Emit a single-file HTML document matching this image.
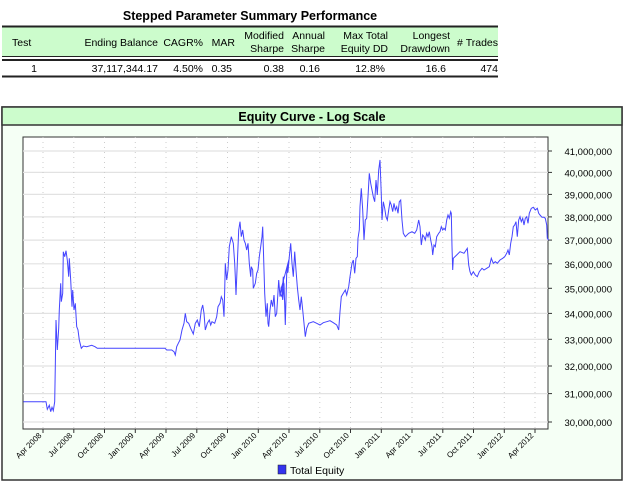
<!DOCTYPE html>
<html><head><meta charset="utf-8"><style>
body{margin:0;width:626px;height:486px;background:#fff;font-family:"Liberation Sans",Arial,sans-serif;overflow:hidden;position:relative}
</style></head><body>
<svg width="626" height="486" style="position:absolute;left:0;top:0" font-family="Liberation Sans, Arial, sans-serif">
<text x="250" y="20" font-size="12.5" font-weight="bold" text-anchor="middle">Stepped Parameter Summary Performance</text>
<rect x="2" y="27" width="496" height="29" fill="#ccfccc"/>
<line x1="2" y1="26.5" x2="498" y2="26.5" stroke="#222" stroke-width="2"/>
<line x1="2" y1="56.5" x2="498" y2="56.5" stroke="#222" stroke-width="1"/>
<line x1="2" y1="60" x2="498" y2="60" stroke="#222" stroke-width="2"/>
<line x1="2" y1="76.5" x2="498" y2="76.5" stroke="#222" stroke-width="2"/>
<g font-size="10.5" fill="#000">
<text x="12" y="46">Test</text>
<text x="158" y="46" text-anchor="end">Ending Balance</text>
<text x="203" y="46" text-anchor="end">CAGR%</text>
<text x="235" y="46" text-anchor="end">MAR</text>
<text x="284" y="39" text-anchor="end">Modified</text><text x="284" y="52" text-anchor="end">Sharpe</text>
<text x="325" y="39" text-anchor="end">Annual</text><text x="325" y="52" text-anchor="end">Sharpe</text>
<text x="388" y="39" text-anchor="end">Max Total</text><text x="388" y="52" text-anchor="end">Equity DD</text>
<text x="450" y="39" text-anchor="end">Longest</text><text x="450" y="52" text-anchor="end">Drawdown</text>
<text x="498" y="46" text-anchor="end">#&#160;Trades</text>
<text x="34" y="72" text-anchor="middle">1</text>
<text x="158" y="72" text-anchor="end">37,117,344.17</text>
<text x="203" y="72" text-anchor="end">4.50%</text>
<text x="232" y="72" text-anchor="end">0.35</text>
<text x="284" y="72" text-anchor="end">0.38</text>
<text x="320" y="72" text-anchor="end">0.16</text>
<text x="385" y="72" text-anchor="end">12.8%</text>
<text x="446" y="72" text-anchor="end">16.6</text>
<text x="498" y="72" text-anchor="end">474</text>
</g>
<rect x="2" y="107" width="620" height="373" fill="#f5fff5" stroke="#333" stroke-width="1.5"/>
<rect x="2" y="107" width="620" height="18" fill="#ccfccc" stroke="#333" stroke-width="1.5"/>
<text x="312" y="121" font-size="12.5" font-weight="bold" text-anchor="middle">Equity Curve - Log Scale</text>
<rect x="23" y="137" width="525" height="292" fill="#fff" stroke="#333" stroke-width="1"/>
<g id="grid"></g>
<polyline id="ser" fill="none" stroke="#4444ff" stroke-width="1"/>
<rect x="278" y="465" width="8" height="9" fill="#3333ee" stroke="#222" stroke-width="0.5"/>
<text x="290" y="474" font-size="10.5">Total Equity</text>
</svg>
<script>
var g=document.getElementById('grid'),s='';
function Y(v){return 151+867.6*Math.log(41/v);}
for(var m=30;m<=41;m++){var y=Y(m).toFixed(1);
s+='<line x1="23" x2="548" y1="'+y+'" y2="'+y+'" stroke="#e2e2e2" stroke-width="1.2"/>';
s+='<line x1="548" x2="552" y1="'+y+'" y2="'+y+'" stroke="#333"/>';
s+='<text x="612" y="'+(+y+4)+'" font-size="9.5" text-anchor="end">'+m+',000,000</text>';}
var lb=['Apr 2008','Jul 2008','Oct 2008','Jan 2009','Apr 2009','Jul 2009','Oct 2009','Jan 2010','Apr 2010','Jul 2010','Oct 2010','Jan 2011','Apr 2011','Jul 2011','Oct 2011','Jan 2012','Apr 2012'];
for(var i=0;i<lb.length;i++){var x=(43+i*30.75).toFixed(1);
s+='<line x1="'+x+'" x2="'+x+'" y1="137" y2="429" stroke="#ccc" stroke-dasharray="1,4"/>';
s+='<line x1="'+x+'" x2="'+x+'" y1="429" y2="433" stroke="#333"/>';
s+='<text transform="translate('+(x-1)+',436) rotate(-45)" font-size="8" text-anchor="end">'+lb[i]+'</text>';}
g.innerHTML=s;
var a=[10,815,78,815,82,838,88,826,92,845,96,832,100,842,104,815,106,710,108,570,112,660,116,595,118,540,122,460,124,515,128,490,130,365,134,380,138,362,142,390,146,440,148,385,152,450,156,530,158,480,162,540,166,520,170,590,174,600,178,630,184,655,190,648,200,650,215,646,225,650,232,655,435,655,440,660,455,660,462,665,466,675,470,650,475,640,480,630,486,600,492,580,496,550,500,575,506,580,512,595,520,612,526,580,532,570,538,590,544,540,548,525,552,550,556,600,562,580,568,570,572,585,576,575,584,580,590,560,594,530,600,520,604,500,608,510,612,560,614,480,616,400,620,450,624,420,628,350,634,320,640,340,644,400,646,440,648,495,652,400,656,300,660,275,664,320,668,300,672,330,676,340,680,360,684,340,688,400,692,440,694,410,698,420,700,475,706,460,710,430,714,420,718,380,722,350,726,320,728,290,730,350,734,490,738,560,742,520,744,580,746,590,750,540,754,510,758,530,762,495,766,560,770,550,776,450,780,500,784,470,788,510,792,460,796,585,800,430,804,400,808,385];
var b=[0,490,6,500,10,440,14,520,16,585,20,430,24,425,28,380,32,340,36,400,40,440,44,365,48,420,52,470,56,510,60,540,64,500,68,540,72,580,76,620,80,595,86,580,100,575,110,580,120,585,130,578,140,575,150,572,160,578,170,585,176,600,180,545,184,500,190,490,196,480,200,495,206,470,210,440,216,400,220,390,224,430,228,385,232,380,234,325,238,300,240,230,244,175,248,240,252,330,256,270,260,265,264,200,268,130,272,160,276,180,280,200,284,215,288,150,292,195,296,120,300,90,304,195,306,270,310,215,314,235,318,260,322,270,326,240,330,215,334,225,338,245,342,220,346,240,350,230,354,250,358,215,362,210,366,270,370,310,376,320,386,310,396,305,404,310,410,300,416,270,420,290,424,345,428,315,432,320,436,330,440,310,444,320,448,305,452,330,456,350,458,375,462,345,466,350,470,320,476,310,480,305,484,290,488,300,492,295,496,300,500,270,504,255,508,265,512,245,514,250,516,350,518,420,520,385,530,375,540,365,552,370,562,355,566,405,570,425,574,435,580,425,586,435,592,440,598,425,606,415,612,420,620,415,628,410,634,385,640,400,646,395,652,400,660,390,668,385,674,380,680,370,684,360,688,375,692,340,696,320,700,290,704,285,708,275,712,320,716,270,720,260,724,275,728,265,732,285,736,265,740,260,744,280,748,250,754,235,760,232,766,240,772,235,776,250,780,255,786,262,792,262,796,265,800,285,802,325,806,330];
var p=[];
for(var i=0;i<a.length;i+=2)p.push((20+a[i]/3).toFixed(1)+','+(130+a[i+1]/3).toFixed(1));
for(var i=0;i<b.length;i+=2)p.push((280+b[i]/3).toFixed(1)+','+(130+b[i+1]/3).toFixed(1));
document.getElementById('ser').setAttribute('points',p.join(' '));
</script>
</body></html>
